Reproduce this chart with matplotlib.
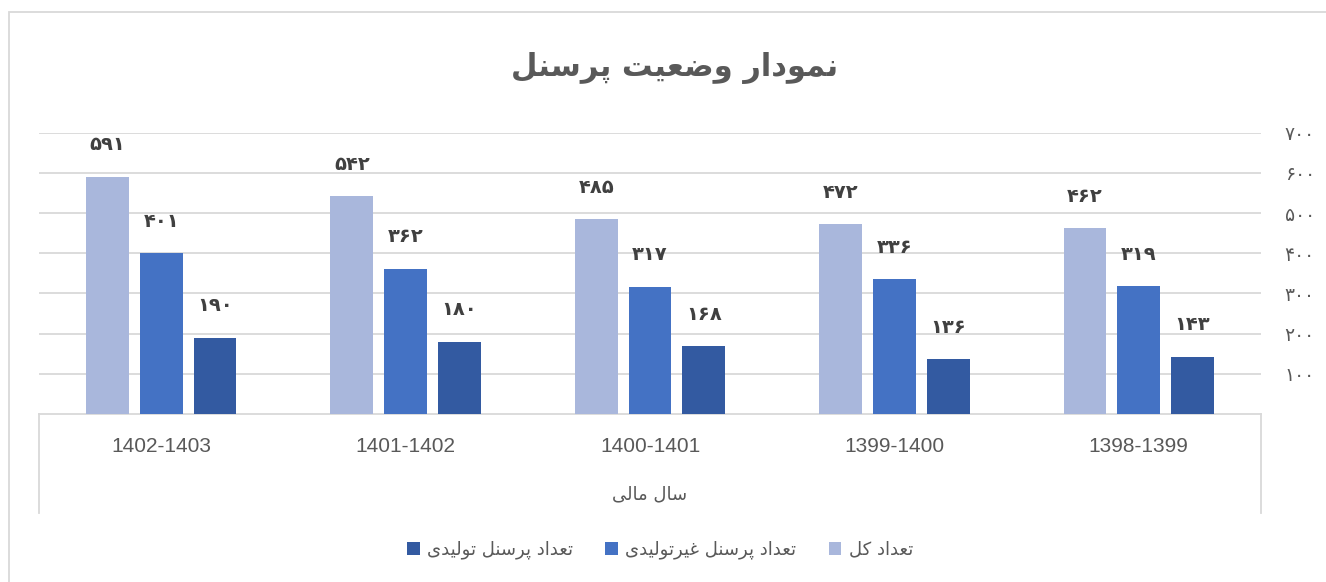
import numpy as np
import matplotlib.pyplot as plt
from matplotlib.patches import Rectangle
from matplotlib.lines import Line2D

# Chart data (categories shown right-to-left, as in the original)
categories = ["1398-1399", "1399-1400", "1400-1401", "1401-1402", "1402-1403"]
total = [462, 472, 485, 542, 591]
non_production = [319, 336, 317, 362, 401]
production = [143, 136, 168, 180, 190]

title_text = "نمودار وضعیت پرسنل"
axis_title = "سال مالی"
series_names = ["تعداد کل", "تعداد پرسنل غیرتولیدی", "تعداد پرسنل تولیدی"]
y_ticks = [100, 200, 300, 400, 500, 600, 700]

colors = ["#A9B7DC", "#4472C4", "#335AA1"]

# Small Arabic/Persian shaper: presentation forms + visual reversal
FORMS = {
    'ا': ('\uFE8D', '\uFE8E', None, None),
    'د': ('\uFEA9', '\uFEAA', None, None),
    'ر': ('\uFEAD', '\uFEAE', None, None),
    'و': ('\uFEED', '\uFEEE', None, None),
    'ت': ('\uFE95', '\uFE96', '\uFE97', '\uFE98'),
    'س': ('\uFEB1', '\uFEB2', '\uFEB3', '\uFEB4'),
    'ض': ('\uFEBD', '\uFEBE', '\uFEBF', '\uFEC0'),
    'ع': ('\uFEC9', '\uFECA', '\uFECB', '\uFECC'),
    'غ': ('\uFECD', '\uFECE', '\uFECF', '\uFED0'),
    'ل': ('\uFEDD', '\uFEDE', '\uFEDF', '\uFEE0'),
    'م': ('\uFEE1', '\uFEE2', '\uFEE3', '\uFEE4'),
    'ن': ('\uFEE5', '\uFEE6', '\uFEE7', '\uFEE8'),
    'ی': ('\uFBFC', '\uFBFD', '\uFBFE', '\uFBFF'),
    'پ': ('\uFB56', '\uFB57', '\uFB58', '\uFB59'),
    'ک': ('\uFB8E', '\uFB8F', '\uFB90', '\uFB91'),
}


def shape(text):
    out = []
    for i, ch in enumerate(text):
        if ch not in FORMS:
            out.append(ch)
            continue
        prev = text[i - 1] if i > 0 else ''
        nxt = text[i + 1] if i + 1 < len(text) else ''
        joins_prev = prev in FORMS and FORMS[prev][2] is not None
        joins_next = FORMS[ch][2] is not None and nxt in FORMS
        iso, fin, ini, med = FORMS[ch]
        if joins_prev and joins_next:
            out.append(med)
        elif joins_prev:
            out.append(fin)
        elif joins_next:
            out.append(ini)
        else:
            out.append(iso)
    return ''.join(reversed(out))


def fa_digits(n):
    return str(n).translate(str.maketrans('0123456789', '۰۱۲۳۴۵۶۷۸۹'))


W, H = 1326, 582
fig = plt.figure(figsize=(W / 100, H / 100), dpi=100)

# Outer chart border (only top and left edges fall inside the image)
fig.patches.append(Rectangle((9 / W, -0.2), 1.2, 1.2 - 12 / H, transform=fig.transFigure,
                             fill=False, edgecolor='#D9D9D9', linewidth=1.3))

left, right, top, bottom = 39, 1261, 132.7, 414
ax = fig.add_axes([left / W, 1 - bottom / H, (right - left) / W, (bottom - top) / H])

x = np.arange(len(categories))
bw = 0.175
step = 0.22
series = [total, non_production, production]
bars = []
for k, vals in enumerate(series):
    # axis is reversed, so the first series ends up on the left of each group
    pos = x + (1 - k) * step
    b = ax.bar(pos, vals, width=bw, color=colors[k], zorder=3)
    bars.append(b)
    for xi, v in zip(pos, vals):
        ax.annotate(fa_digits(v), (xi, v), xytext=(0, 16), textcoords='offset points',
                    ha='center', va='bottom', fontsize=14, fontweight='bold',
                    color='#404040', family='DejaVu Sans')

ax.set_xlim(4.5, -0.5)
ax.set_ylim(0, 700)
ax.set_yticks(y_ticks)
ax.yaxis.grid(True, color='#D9D9D9', linewidth=1.3, zorder=0)
ax.yaxis.tick_right()
ax.set_yticklabels([fa_digits(t) for t in y_ticks], color='#595959', fontsize=13.5)
ax.tick_params(axis='y', which='both', length=0, pad=17)
ax.set_xticks([])
for s in ['top', 'left', 'right']:
    ax.spines[s].set_visible(False)
ax.spines['bottom'].set_color('#D9D9D9')
ax.spines['bottom'].set_linewidth(1.3)

# Category box below the axis
for px in (left, right):
    fig.add_artist(Line2D([px / W, px / W], [1 - bottom / H, 1 - 513 / H],
                          color='#D9D9D9', linewidth=1.3))

for xi, c in zip(x, categories):
    xf = (left + (right - left) * (4.5 - xi) / 5) / W
    fig.text(xf, 1 - 447 / H, c, ha='center', va='center', fontsize=15,
             color='#595959', family='Liberation Sans')

fig.text((left + right) / 2 / W, 1 - 494 / H, shape(axis_title), ha='center', va='center',
         fontsize=13, color='#595959', family='DejaVu Sans')

fig.text(675 / W, 1 - 68 / H, shape(title_text), ha='center', va='center',
         fontsize=22, fontweight='bold', color='#595959', family='DejaVu Sans')

handles = [bars[2], bars[1], bars[0]]
labels = [shape(series_names[2]), shape(series_names[1]), shape(series_names[0])]
fig.legend(handles, labels, loc='center', bbox_to_anchor=(660 / W, 1 - 550 / H), ncol=3,
           frameon=False, fontsize=13, labelcolor='#595959', handlelength=0.7,
           handleheight=0.7, handletextpad=0.4, columnspacing=1.8)

fig.savefig('out.png', dpi=100)
